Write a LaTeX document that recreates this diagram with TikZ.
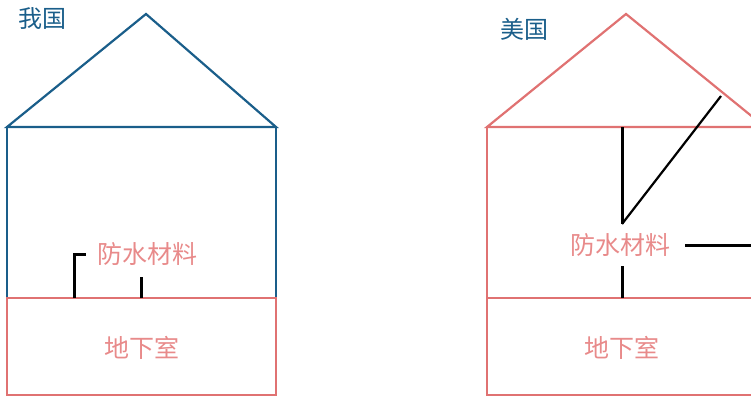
\documentclass[tikz,border=0pt]{standalone}
\usepackage{fontspec}
\newfontfamily\cjk{Noto Sans CJK SC}
\definecolor{hblue}{HTML}{1A5E8A}
\definecolor{hpink}{HTML}{E07272}
\definecolor{tpink}{HTML}{E88A8A}
\begin{document}
\begin{tikzpicture}[x=1pt,y=-1pt,
  wall/.style={line width=2.2pt,line join=miter},
  marker/.style={black,line width=3pt},
  thinmarker/.style={black,line width=2.2pt},
  lbl/.style={font=\cjk\fontsize{25}{25}\selectfont,inner sep=0pt},
  title/.style={font=\cjk\fontsize{24}{24}\selectfont,text=hblue,inner sep=0pt}]
\useasboundingbox (0,0) rectangle (751,396);
\clip (0,0) rectangle (751,396);
% ---- left house (我国)
\coordinate (Lpeak) at (146,14);
\coordinate (Lel) at (7,127);
\coordinate (Ler) at (276,127);
\coordinate (Lfl) at (7,298);
\coordinate (Lfr) at (276,298);
\coordinate (Lbl) at (7,395);
\coordinate (Lbr) at (276,395);
\draw[wall,hblue] (Lel) -- (Lpeak) -- (Ler) -- cycle;
\draw[wall,hblue] (Lel) -- (Lfl) (Ler) -- (Lfr);
\draw[wall,hpink] (Lfl) rectangle (Lbr);
\node[title] (t1) at (42,19) {我国};
\node[lbl,text=tpink] (w1) at (147,254) {防水材料};
\node[lbl,text=tpink] (b1) at (142,348) {地下室};
\coordinate (m1a) at (74,298);
\coordinate (m1b) at (74,254);
\coordinate (m1c) at (86,254);
\coordinate (m2a) at (141,298);
\coordinate (m2b) at (141,277);
\draw[marker,line join=miter] (m1a) -- (m1b) -- (m1c);
\draw[marker] (m2a) -- (m2b);
% ---- right house (美国)
\coordinate (Rpeak) at (626,14);
\coordinate (Rel) at (487,127);
\coordinate (Rer) at (765,127);
\coordinate (Rfl) at (487,298);
\coordinate (Rfr) at (765,298);
\coordinate (Rbr) at (765,395);
\draw[wall,hpink] (Rel) -- (Rpeak) -- (Rer) -- cycle;
\draw[wall,hpink] (Rel) -- (Rfl) (Rer) -- (Rfr);
\draw[wall,hpink] (Rfl) rectangle (Rbr);
\node[title] (t2) at (524,29) {美国};
\node[lbl,text=tpink] (w2) at (620,245) {防水材料};
\node[lbl,text=tpink] (b2) at (622,348) {地下室};
\coordinate (n1a) at (622,127);
\coordinate (n1b) at (622,224);
\coordinate (n1c) at (721,96);
\coordinate (n2a) at (622,298);
\coordinate (n2b) at (622,266);
\coordinate (n3a) at (685,245);
\coordinate (n3b) at (760,245);
\draw[marker] (n1a) -- (n1b);
\draw[thinmarker] (n1b) -- (n1c);
\draw[marker] (n2a) -- (n2b);
\draw[marker] (n3a) -- (n3b);
\end{tikzpicture}
\end{document}
